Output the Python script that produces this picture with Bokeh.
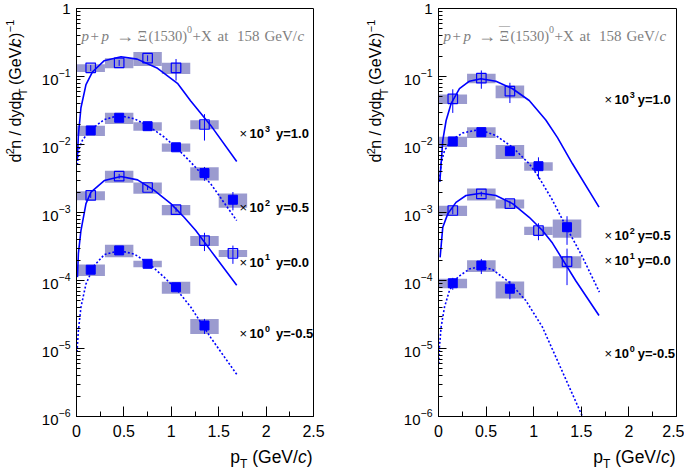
import math
from bokeh.plotting import figure
from bokeh.layouts import row, column
from bokeh.models import Range1d, FixedTicker, LogTicker, Label, LogTickFormatter
from bokeh.embed import file_html
from bokeh.resources import INLINE

# ---------------- data ----------------
HALF_BIN = 0.15                       # half width of a pT bin (GeV/c)
X_TICKS = [0, 0.5, 1, 1.5, 2, 2.5]
X_MINOR = [0.25, 0.75, 1.25, 1.75, 2.25]
RAPIDITY = ["y=1.0", "y=0.5", "y=0.0", "y=-0.5"]
SCALE_POW = ["3", "2", "1", "0"]

# Left panel: Xi(1530)0  -- (pT, value, stat rel. err, sys rel. err)
L_y10_pt = [0.15, 0.45, 0.75, 1.05, 1.35]
L_y10_v = [0.134, 0.159, 0.186, 0.134, 0.0197]
L_y10_stat = [0.10, 0.10, 0.10, 0.35, 0.42]
L_y10_sys = [0.13, 0.17, 0.23, 0.19, 0.15]

L_y05_pt = [0.15, 0.45, 0.75, 1.05, 1.35, 1.65]
L_y05_v = [0.0161, 0.0247, 0.0186, 0.0091, 0.0038, 0.00154]
L_y05_stat = [0.10, 0.08, 0.10, 0.10, 0.23, 0.30]
L_y05_sys = [0.17, 0.19, 0.14, 0.14, 0.22, 0.24]

L_y00_pt = [0.15, 0.45, 0.75, 1.05, 1.35, 1.65]
L_y00_v = [0.00178, 0.00342, 0.00233, 0.00110, 0.000387, 0.000251]
L_y00_stat = [0.08, 0.08, 0.08, 0.08, 0.30, 0.30]
L_y00_sys = [0.15, 0.20, 0.19, 0.17, 0.17, 0.12]

L_ym05_pt = [0.15, 0.45, 0.75, 1.05, 1.35]
L_ym05_v = [0.000144, 0.000277, 0.000176, 0.0000796, 0.0000218]
L_ym05_stat = [0.10, 0.08, 0.10, 0.10, 0.25]
L_ym05_sys = [0.19, 0.21, 0.11, 0.20, 0.25]

# Left panel fit curves
L_c10_x = [0.008, 0.02, 0.047, 0.10, 0.17, 0.29, 0.47, 0.64, 0.855, 1.065, 1.205, 1.416, 1.69]
L_c10_y = [0.00575, 0.0138, 0.0347, 0.0759, 0.1175, 0.170, 0.195, 0.180, 0.132, 0.0794, 0.0437, 0.0191, 0.00562]
L_c05_x = [0.008, 0.03, 0.065, 0.153, 0.293, 0.45, 0.609, 0.749, 0.924, 1.065, 1.205, 1.416, 1.69]
L_c05_y = [0.00501, 0.00891, 0.01175, 0.0166, 0.0233, 0.0267, 0.0239, 0.0191, 0.0129, 0.00865, 0.0055, 0.00264, 0.000762]
L_c00_x = [0.01, 0.02, 0.047, 0.10, 0.153, 0.293, 0.468, 0.644, 0.82, 0.995, 1.135, 1.258, 1.416, 1.69]
L_c00_y = [0.000112, 0.000251, 0.000543, 0.00135, 0.0020, 0.00295, 0.00339, 0.00302, 0.00211, 0.00135, 0.000851, 0.000543, 0.000275, 0.0000851]
L_cm05_x = [0.005, 0.02, 0.047, 0.10, 0.188, 0.293, 0.45, 0.609, 0.767, 0.924, 1.065, 1.205, 1.416, 1.69]
L_cm05_y = [8.91e-6, 1.84e-5, 4.07e-5, 8.91e-5, 1.66e-4, 2.40e-4, 2.75e-4, 2.45e-4, 1.76e-4, 1.12e-4, 7.13e-5, 4.07e-5, 1.445e-5, 4.17e-6]

# Right panel: anti-Xi(1530)0
R_y10_pt = [0.15, 0.45, 0.75]
R_y10_v = [0.047, 0.0944, 0.0608]
R_y10_stat = [0.38, 0.30, 0.33]
R_y10_sys = [0.16, 0.16, 0.21]

R_y05_pt = [0.15, 0.45, 0.75, 1.05, 1.35]
R_y05_v = [0.0111, 0.0152, 0.00798, 0.0048, 0.000608]
R_y05_stat = [0.10, 0.10, 0.12, 0.35, 0.45]
R_y05_sys = [0.17, 0.18, 0.23, 0.14, 0.30]

R_y00_pt = [0.15, 0.45, 0.75, 1.05, 1.35]
R_y00_v = [0.00107, 0.00188, 0.00135, 0.000543, 0.00019]
R_y00_stat = [0.12, 0.08, 0.10, 0.28, 0.55]
R_y00_sys = [0.17, 0.20, 0.15, 0.14, 0.20]

R_ym05_pt = [0.15, 0.45, 0.75]
R_ym05_v = [0.0000912, 0.000166, 0.0000758]
R_ym05_stat = [0.20, 0.25, 0.30]
R_ym05_sys = [0.16, 0.20, 0.28]

R_c10_x = [0.014, 0.045, 0.08, 0.132, 0.22, 0.325, 0.446, 0.603, 0.778, 0.953, 1.127, 1.25, 1.406, 1.686]
R_c10_y = [0.00282, 0.01148, 0.02254, 0.0398, 0.0661, 0.0853, 0.0925, 0.0853, 0.0661, 0.0444, 0.0229, 0.0126, 0.00525, 0.0012]
R_c05_x = [0.01, 0.027, 0.063, 0.132, 0.254, 0.429, 0.603, 0.778, 0.953, 1.04, 1.19, 1.33, 1.5, 1.69]
R_c05_y = [0.00295, 0.00525, 0.00813, 0.01148, 0.01479, 0.0166, 0.01355, 0.00912, 0.0052, 0.00355, 0.00158, 0.000661, 0.00024, 0.0000676]
R_c00_x = [0.017, 0.045, 0.097, 0.184, 0.289, 0.446, 0.603, 0.778, 0.953, 1.092, 1.197, 1.44, 1.686]
R_c00_y = [0.000219, 0.000608, 0.000955, 0.00141, 0.00178, 0.00192, 0.00178, 0.00135, 0.000851, 0.000543, 0.000355, 0.0001, 0.0000305]
R_cm05_x = [0.003, 0.01, 0.027, 0.063, 0.115, 0.202, 0.325, 0.446, 0.569, 0.743, 0.917, 1.092, 1.25, 1.40, 1.56]
R_cm05_y = [5.96e-6, 1.047e-5, 2.04e-5, 4.07e-5, 7.13e-5, 1.12e-4, 1.48e-4, 1.607e-4, 1.445e-4, 9.44e-5, 5.08e-5, 2.06e-5, 6.61e-6, 2.24e-6, 7.08e-7]

# ---------------- styling / geometry ----------------
BLUE = "#0000ff"
BOX = "#9b9bcf"
SANS = "Liberation Sans"
SERIF = "Liberation Serif"
DEC = 68.0            # px per decade
TOP = 8
FRAME_H = 408
BOT = 30
PH = TOP + FRAME_H + BOT   # 446
XT_H = 27


def ydat(px):
    """vertical position in px below the frame top -> data value"""
    return 10 ** (-px / DEC)


def make_panel(width, bl, br, series, curves, bar, right_labels):
    fw = width - bl - br
    p = figure(width=width, height=PH, x_range=Range1d(0, 2.5),
               y_range=Range1d(1e-6, 1), y_axis_type="log",
               output_backend="svg", toolbar_location=None,
               min_border_left=bl, min_border_right=br,
               min_border_top=TOP, min_border_bottom=BOT)
    p.grid.visible = False
    p.outline_line_color = "black"
    p.outline_line_width = 1
    p.background_fill_color = "white"
    p.border_fill_color = "white"

    def xd(px):
        return px * 2.5 / fw

    xa = p.xaxis[0]
    xa.ticker = FixedTicker(ticks=X_TICKS, minor_ticks=X_MINOR)
    xa.major_tick_in = 10
    xa.major_tick_out = 0
    xa.minor_tick_in = 5
    xa.minor_tick_out = 0
    xa.major_label_text_font = SANS
    xa.major_label_text_font_size = "16px"
    xa.major_label_text_color = "black"
    xa.major_label_standoff = 8
    xa.axis_line_color = "black"
    xa.major_tick_line_color = "black"
    xa.minor_tick_line_color = "black"

    ya = p.yaxis[0]
    ya.ticker = LogTicker(num_minor_ticks=10)
    ya.formatter = LogTickFormatter()
    ya.major_label_overrides = {1: "1"}
    ya.major_tick_in = 8
    ya.major_tick_out = 0
    ya.minor_tick_in = 4
    ya.minor_tick_out = 0
    ya.major_label_text_font = SANS
    ya.major_label_text_font_size = "15px"
    ya.major_label_text_color = "black"
    ya.major_label_standoff = 6
    ya.axis_line_color = "black"
    ya.major_tick_line_color = "black"
    ya.minor_tick_line_color = "black"

    # data: boxes, curves, error bars, markers
    for (pt, v, st, sy, filled) in series:
        p.quad(left=[x - HALF_BIN for x in pt], right=[x + HALF_BIN for x in pt],
               bottom=[a * (1 - s) for a, s in zip(v, sy)], top=[a * (1 + s) for a, s in zip(v, sy)],
               fill_color=BOX, line_color=None)
    for (cx, cy, dotted) in curves:
        p.line(cx, cy, line_color=BLUE, line_width=1.6, line_dash="2 2" if dotted else "solid")
    for (pt, v, st, sy, filled) in series:
        p.segment(x0=pt, x1=pt, y0=[a * (1 - s) for a, s in zip(v, st)],
                  y1=[a * (1 + s) for a, s in zip(v, st)], line_color=BLUE, line_width=1)
        if filled:
            p.scatter(pt, v, marker="square", size=9, fill_color=BLUE, line_color=BLUE)
        else:
            p.scatter(pt, v, marker="square", size=9.5, fill_alpha=0, line_color=BLUE, line_width=1.2)

    # reaction title (grey, serif)
    grey = "#7f7f7f"
    base = ydat(27.5)
    pieces = [(5, "p", "italic", 15), (14, "+", "normal", 15), (25, "p", "italic", 15),
              (39.5, "\u2192", "normal", 18), (61, "\u039e", "normal", 15),
              (72, "(1530)", "normal", 14.5), (116, "+X", "normal", 15),
              (141, "at", "normal", 15), (160.5, "158", "normal", 15),
              (188, "GeV/", "normal", 15), (221, "c", "italic", 15)]
    for off, t, st, fs in pieces:
        p.add_layout(Label(x=xd(off), y=base, text=t, text_font=SERIF, text_font_size=f"{fs}px",
                           text_font_style=st, text_color=grey, text_align="left",
                           text_baseline="alphabetic"))
    p.add_layout(Label(x=xd(110.5), y=ydat(21), text="0", text_font=SERIF, text_font_size="10px",
                       text_color=grey, text_align="left", text_baseline="alphabetic"))
    if bar:
        p.add_layout(Label(x=xd(60.5), y=ydat(16.5), text="\u2014", text_font=SERIF,
                           text_font_size="11px", text_color=grey, text_align="left",
                           text_baseline="middle"))

    # scale-factor labels
    offs, ycs = right_labels
    for (yc, pw, rap) in zip(ycs, SCALE_POW, RAPIDITY):
        p.add_layout(Label(x=xd(offs[0]), y=ydat(yc), text="\u00d7", text_font=SANS,
                           text_font_size="13px", text_align="left", text_baseline="middle",
                           text_color="black"))
        p.add_layout(Label(x=xd(offs[1]), y=ydat(yc), text="10", text_font=SANS,
                           text_font_size="13px", text_font_style="bold", text_align="left",
                           text_baseline="middle", text_color="black"))
        p.add_layout(Label(x=xd(offs[2]), y=ydat(yc - 5), text=pw, text_font=SANS,
                           text_font_size="9px", text_font_style="bold", text_align="left",
                           text_baseline="middle", text_color="black"))
        p.add_layout(Label(x=xd(offs[3]), y=ydat(yc), text=rap, text_font=SANS,
                           text_font_size="13px", text_font_style="bold", text_align="left",
                           text_baseline="middle", text_color="black"))
    return p


def make_ytitle(width, xc):
    """narrow figure (frame = whole canvas) carrying the rotated y-axis title"""
    lo = 10 ** (-(PH - TOP) / DEC)
    hi = 10 ** (TOP / DEC)
    t = figure(width=width, height=PH, x_range=Range1d(0, width), y_range=Range1d(lo, hi),
               y_axis_type="log", output_backend="svg", toolbar_location=None,
               x_axis_location=None, y_axis_location=None,
               min_border=0, min_border_left=0, min_border_right=0,
               min_border_top=0, min_border_bottom=0)
    t.outline_line_color = None
    t.grid.visible = False
    t.background_fill_color = "white"
    t.border_fill_color = "white"
    # (px below frame top where the piece starts, text, size, style, x shift)
    ypieces = [(160.3, "d", 16, "normal", 0), (151.4, "2", 11, "normal", -5),
               (145.3, "n / dydp", 16, "normal", 0), (87.0, "T", 11.5, "normal", 8),
               (75.6, "(GeV/", 16, "normal", 0), (33.6, "c", 16, "italic", 0),
               (24.3, ")", 16, "normal", 0), (18.0, "\u22121", 11, "normal", -5)]
    for (yy, txt, fs, st, dx) in ypieces:
        t.add_layout(Label(x=xc + dx, y=ydat(yy), text=txt, text_font=SANS,
                           text_font_size=f"{fs}px", text_font_style=st, angle=math.pi / 2,
                           text_align="left", text_baseline="middle", text_color="black"))
    return t


left_series = [(L_y10_pt, L_y10_v, L_y10_stat, L_y10_sys, False),
               (L_y05_pt, L_y05_v, L_y05_stat, L_y05_sys, True),
               (L_y00_pt, L_y00_v, L_y00_stat, L_y00_sys, False),
               (L_ym05_pt, L_ym05_v, L_ym05_stat, L_ym05_sys, True)]
left_curves = [(L_c10_x, L_c10_y, False), (L_c05_x, L_c05_y, True),
               (L_c00_x, L_c00_y, False), (L_cm05_x, L_cm05_y, True)]
right_series = [(R_y10_pt, R_y10_v, R_y10_stat, R_y10_sys, False),
                (R_y05_pt, R_y05_v, R_y05_stat, R_y05_sys, True),
                (R_y00_pt, R_y00_v, R_y00_stat, R_y00_sys, False),
                (R_ym05_pt, R_ym05_v, R_ym05_stat, R_ym05_sys, True)]
right_curves = [(R_c10_x, R_c10_y, False), (R_c05_x, R_c05_y, True),
                (R_c00_x, R_c00_y, False), (R_cm05_x, R_cm05_y, True)]

# page layout: [ytitle | left panel | ytitle | right panel], x-titles underneath
yt1 = make_ytitle(36, 14.5)
p1 = make_panel(312, 40, 35, left_series, left_curves, False,
                ([163, 173, 188.5, 199.5], [125.3, 199.3, 253.7, 325.3]))
yt2 = make_ytitle(42, 27.3)
p2 = make_panel(294, 48, 8, right_series, right_curves, True,
                ([166, 176, 191.3, 199.3], [91.3, 227, 252, 345.3]))

TOTAL_W = 36 + 312 + 42 + 294
xt = figure(width=TOTAL_W, height=XT_H, x_range=Range1d(0, TOTAL_W), y_range=Range1d(0, XT_H),
            output_backend="svg", toolbar_location=None, x_axis_location=None,
            y_axis_location=None, min_border=0, min_border_left=0, min_border_right=0,
            min_border_top=0, min_border_bottom=0)
xt.outline_line_color = None
xt.grid.visible = False
xt.background_fill_color = "white"
xt.border_fill_color = "white"
for right_edge in (312, 675):
    start = right_edge - 82.2
    xpieces = [(0.0, "p", 17.5, "normal", 0), (9.73, "T", 12, "normal", -6.5),
               (21.9, "(GeV/", 17.5, "normal", 0), (67.6, "c", 17.5, "italic", 0),
               (76.4, ")", 17.5, "normal", 0)]
    for (dx, txt, fs, st, dy) in xpieces:
        xt.add_layout(Label(x=start + dx, y=XT_H - (456.7 - PH) + dy, text=txt, text_font=SANS,
                            text_font_size=f"{fs}px", text_font_style=st, text_align="left",
                            text_baseline="middle", text_color="black"))

layout = column(row(yt1, p1, yt2, p2), xt)
open("out.html", "w").write(file_html(layout, INLINE))
